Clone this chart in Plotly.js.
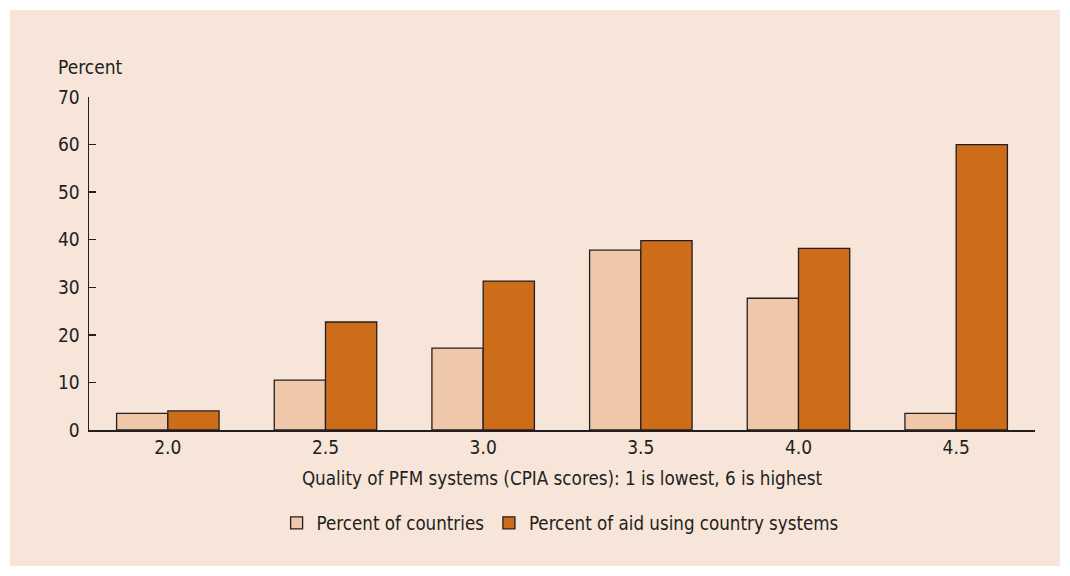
<!DOCTYPE html>
<html>
<head>
<meta charset="utf-8">
<script src="https://cdn.plot.ly/plotly-3.0.1.min.js"></script>
<style>
  html, body { margin: 0; padding: 0; background: #ffffff; }
  #chart { position: absolute; left: 10px; top: 10px; width: 1050px; height: 556px; }
</style>
</head>
<body>
<div id="chart"></div>
<script>
const categories = ["2.0", "2.5", "3.0", "3.5", "4.0", "4.5"];
const percentCountries = [3.5, 10.5, 17.2, 37.8, 27.7, 3.5];
const percentAid = [4.0, 22.7, 31.3, 39.8, 38.2, 60.0];
const seriesNames = ["Percent of countries", "Percent of aid using country systems"];
const yTicks = [0, 10, 20, 30, 40, 50, 60, 70];

const FONT = '"DejaVu Sans Condensed", "Roboto", sans-serif';
const INK = '#231f20';
const FS = 19;

const traces = [
  {
    type: 'bar', x: categories, y: percentCountries, name: seriesNames[0],
    marker: { color: '#F0C8A9', line: { color: INK, width: 1.3 } }
  },
  {
    type: 'bar', x: categories, y: percentAid, name: seriesNames[1],
    marker: { color: '#CD6D1A', line: { color: INK, width: 1.3 } }
  }
];

const layout = {
  width: 1050, height: 556,
  paper_bgcolor: '#F7E5D9', plot_bgcolor: '#F7E5D9',
  margin: { l: 79, r: 25, t: 87, b: 136 },
  font: { family: FONT, size: FS, color: INK },
  barmode: 'group', bargap: 0.35, bargroupgap: 0,
  showlegend: true,
  legend: {
    orientation: 'h', x: 0.498, xanchor: 'center', y: -0.28, yanchor: 'middle',
    font: { family: FONT, size: 18.6, color: INK }, bgcolor: 'rgba(0,0,0,0)',
    itemwidth: 30, traceorder: 'normal'
  },
  xaxis: {
    type: 'category', range: [-0.5, 5.5],
    showline: true, linecolor: INK, linewidth: 1.5,
    ticks: '', showgrid: false, zeroline: false,
    tickfont: { family: FONT, size: FS, color: INK },
    title: { text: 'Quality of PFM systems (CPIA scores): 1 is lowest, 6 is highest', standoff: 14,
             font: { family: FONT, size: 18.7, color: INK } }
  },
  yaxis: {
    range: [0, 70], tickvals: yTicks, ticktext: yTicks.map(String),
    showline: true, linecolor: INK, linewidth: 1.5,
    ticks: 'inside', ticklen: 7, tickwidth: 1.5, tickcolor: INK,
    ticklabelstandoff: 4,
    showgrid: false, zeroline: false,
    tickfont: { family: FONT, size: FS, color: INK }
  },
  annotations: [{
    text: 'Percent', xref: 'paper', yref: 'paper', x: -0.035, y: 1.0, yshift: 30,
    xanchor: 'left', yanchor: 'middle', showarrow: false,
    font: { family: FONT, size: FS, color: INK }
  }]
};

Plotly.newPlot('chart', traces, layout, { displayModeBar: false, staticPlot: true });
</script>
</body>
</html>
